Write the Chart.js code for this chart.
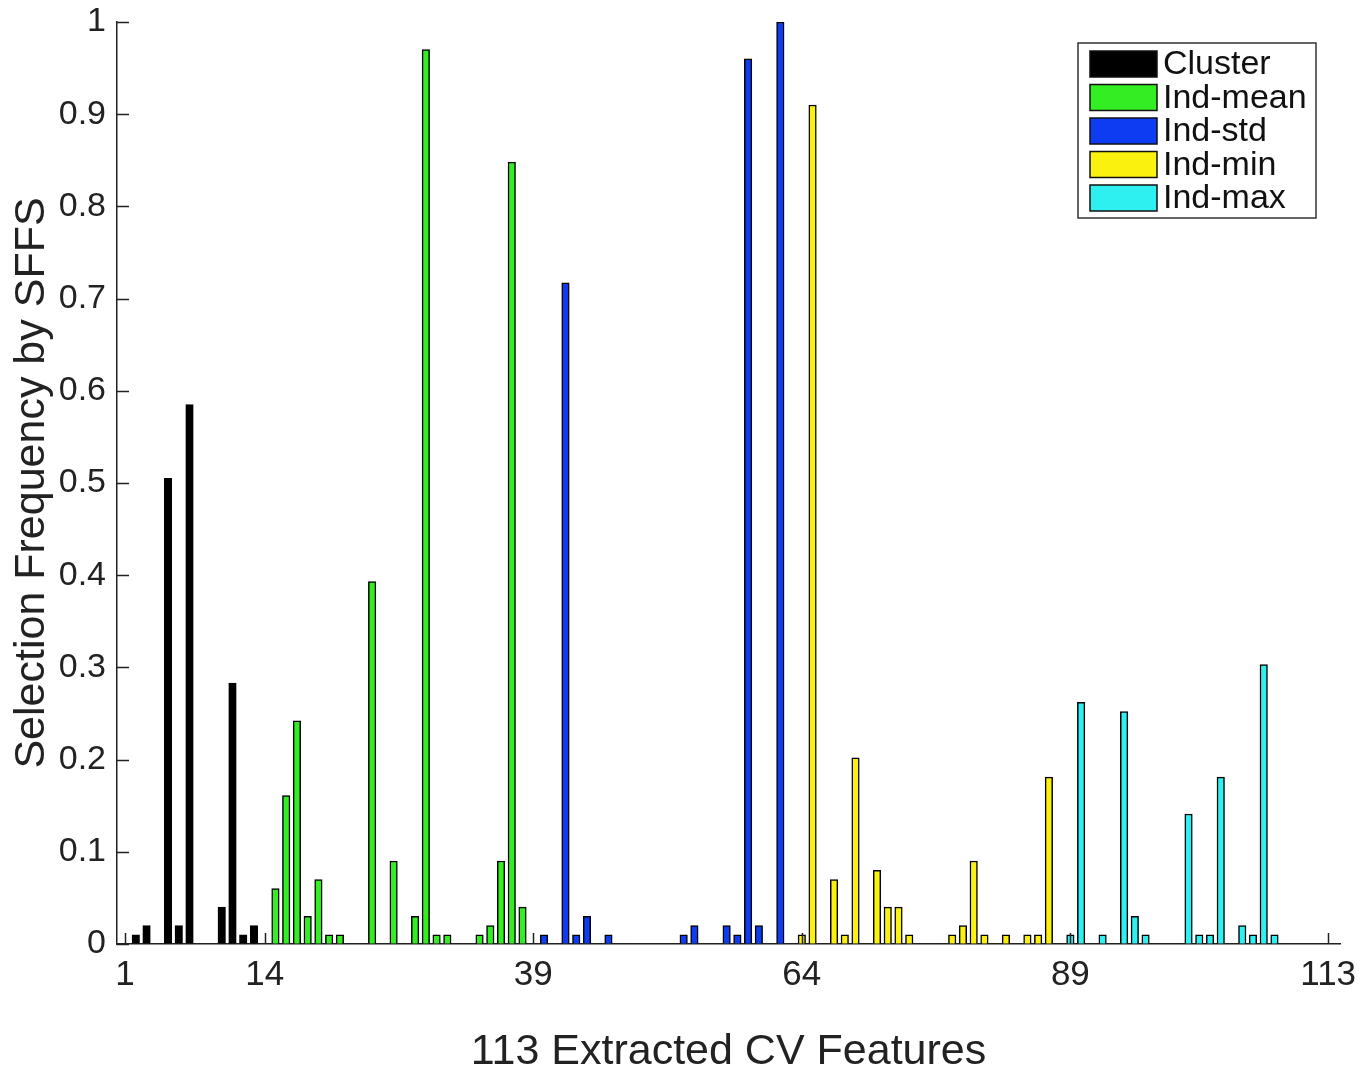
<!DOCTYPE html>
<html lang="en">

<head>
  <meta charset="UTF-8">
  <title>Selection Frequency by SFFS</title>
  <script src="https://cdn.jsdelivr.net/npm/chart.js"></script>
  <style>
    body {
      margin: 0;
      background: #fff;
    }

    canvas {
      display: block;
    }
  </style>
</head>

<body>
  <canvas id="myChart" width="1372" height="1074"></canvas>

  <script>
    // feature index where each group starts (also the x tick labels)
    const groupStarts = [1, 14, 39, 64, 89, 113];
    const groupNames = ['Cluster', 'Ind-mean', 'Ind-std', 'Ind-min', 'Ind-max'];
    const groupColors = ['#000000', '#33ee22', '#0d3cf2', '#faf20e', '#2ef0f0'];

    // selection frequency per feature, one array per group
    const clusterFreq = [0, 0.01, 0.02, 0, 0.505, 0.02, 0.585, 0, 0, 0.04, 0.283, 0.01, 0.02];
    const meanFreq = [0, 0.06, 0.161, 0.242, 0.03, 0.07, 0.01, 0.01, 0, 0, 0.393, 0, 0.09, 0, 0.03,
      0.97, 0.01, 0.01, 0, 0, 0.01, 0.02, 0.09, 0.848, 0.04];
    const stdFreq = [0, 0.01, 0, 0.717, 0.01, 0.03, 0, 0.01, 0, 0, 0, 0, 0, 0, 0.01,
      0.02, 0, 0, 0.02, 0.01, 0.96, 0.02, 0, 1.0, 0];
    const minFreq = [0.01, 0.91, 0, 0.07, 0.01, 0.202, 0, 0.08, 0.04, 0.04, 0.01, 0, 0, 0, 0.01,
      0.02, 0.09, 0.01, 0, 0.01, 0, 0.01, 0.01, 0.181, 0];
    const maxFreq = [0.01, 0.262, 0, 0.01, 0, 0.252, 0.03, 0.01, 0, 0, 0, 0.141, 0.01, 0.01, 0.181,
      0, 0.02, 0.01, 0.303, 0.01, 0, 0, 0, 0, 0];

    const groupValues = [clusterFreq, meanFreq, stdFreq, minFreq, maxFreq];
    const FONT = "'Liberation Sans', Arial, Helvetica, sans-serif";

    const datasets = groupValues.map((vals, g) => ({
      label: groupNames[g],
      data: vals.map((v, k) => ({ x: groupStarts[g] + k, y: v })).filter(p => p.y > 0),
      backgroundColor: groupColors[g],
      borderColor: '#000',
      borderWidth: 1.5,
      borderSkipped: 'start',
      barThickness: 7.5,
      grouped: false
    }));

    // MATLAB-like ticks pointing into the plot
    const innerTicks = {
      id: 'innerTicks',
      afterDatasetsDraw(chart) {
        const { ctx, scales: { x, y }, chartArea } = chart;
        ctx.save();
        ctx.strokeStyle = '#222';
        ctx.lineWidth = 1.5;
        ctx.beginPath();
        y.ticks.forEach(t => {
          const py = Math.round(y.getPixelForValue(t.value)) + 0.5;
          ctx.moveTo(chartArea.left, py);
          ctx.lineTo(chartArea.left + 12, py);
        });
        x.ticks.forEach(t => {
          const px = Math.round(x.getPixelForValue(t.value)) + 0.5;
          ctx.moveTo(px, chartArea.bottom);
          ctx.lineTo(px, chartArea.bottom - 11);
        });
        ctx.stroke();
        ctx.restore();
      }
    };

    const boxLegend = {
      id: 'boxLegend',
      afterDraw(chart) {
        const { ctx } = chart;
        const left = 1078, top = 43, w = 238, h = 175;
        ctx.save();
        ctx.fillStyle = '#fff';
        ctx.fillRect(left, top, w, h);
        ctx.strokeStyle = '#333';
        ctx.lineWidth = 1.5;
        ctx.strokeRect(left, top, w, h);
        ctx.font = '34px ' + FONT;
        ctx.textBaseline = 'middle';
        chart.data.datasets.forEach((ds, i) => {
          const cy = 64 + i * 33.5;
          ctx.fillStyle = ds.backgroundColor;
          ctx.fillRect(1090, cy - 13, 67, 26);
          ctx.strokeStyle = '#111';
          ctx.strokeRect(1090, cy - 13, 67, 26);
          ctx.fillStyle = '#111';
          ctx.fillText(ds.label, 1163, cy + 1);
        });
        ctx.restore();
      }
    };

    const ctx = document.getElementById('myChart').getContext('2d');

    new Chart(ctx, {
      type: 'bar',
      data: { datasets: datasets },
      plugins: [innerTicks, boxLegend],
      options: {
        responsive: false,
        animation: false,
        layout: { padding: { top: 22, right: 32, left: 0, bottom: 0 } },
        plugins: {
          legend: { display: false },
          tooltip: { enabled: false }
        },
        scales: {
          x: {
            type: 'linear',
            offset: false,
            min: 0.25,
            max: 114.1,
            afterBuildTicks: scale => {
              scale.ticks = groupStarts.map(v => ({ value: v }));
            },
            afterFit: scale => {
              scale.height = 130;
              scale.paddingLeft = 0;
              scale.paddingRight = 0;
            },
            grid: { display: true, drawOnChartArea: false, drawTicks: false },
            border: { display: true, color: '#222', width: 1.5 },
            ticks: {
              color: '#222',
              padding: 10,
              maxRotation: 0,
              autoSkip: false,
              font: { family: FONT, size: 35 },
              callback: val => val
            },
            title: {
              display: true,
              text: '113 Extracted CV Features',
              color: '#222',
              font: { family: FONT, size: 43, lineHeight: 1.0 },
              padding: { top: 0, bottom: 0 }
            }
          },
          y: {
            min: 0,
            max: 1,
            afterFit: scale => {
              scale.width = 117;
              scale.paddingTop = 0;
              scale.paddingBottom = 0;
            },
            grid: { display: true, drawOnChartArea: false, drawTicks: false },
            border: { display: true, color: '#222', width: 1.5 },
            ticks: {
              stepSize: 0.1,
              color: '#222',
              padding: 11,
              font: { family: FONT, size: 34 },
              callback: val => +val.toFixed(1)
            },
            title: {
              display: true,
              text: 'Selection Frequency by SFFS',
              color: '#222',
              font: { family: FONT, size: 43 },
              padding: { top: 6, bottom: 0 }
            }
          }
        }
      }
    });
  </script>
</body>

</html>
